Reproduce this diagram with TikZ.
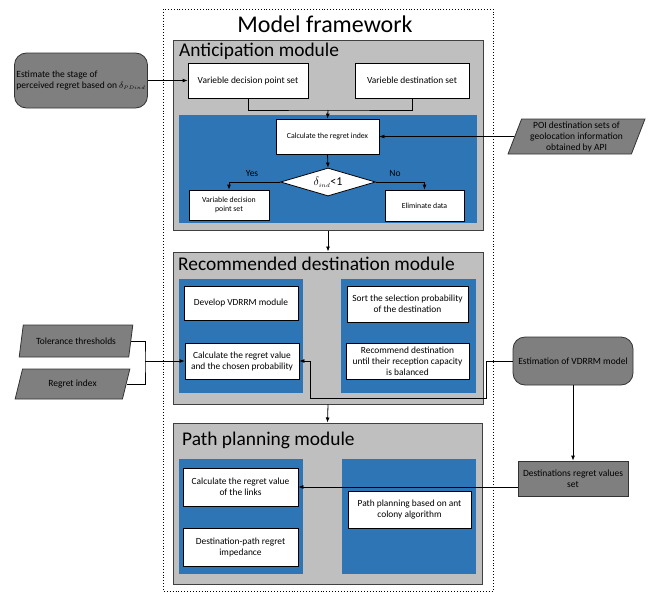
\documentclass[tikz,border=0pt]{standalone}
\usepackage{fontspec}
\setmainfont{Carlito}
\usetikzlibrary{arrows.meta,shapes.geometric}
\definecolor{panelblue}{HTML}{2E75B6}
\definecolor{modgray}{HTML}{BFBFBF}
\definecolor{extgray}{HTML}{7F7F7F}

\begin{document}
\begin{tikzpicture}[x=1pt,y=-1pt,
  sz/.style 2 args={minimum width=#1,minimum height=#2},
  module/.style={draw=black!75,line width=1pt,fill=modgray,inner sep=0pt},
  modtitle/.style={anchor=west,inner sep=0pt,font=\fontsize{19.4}{22}\selectfont},
  panel/.style={fill=panelblue,inner sep=0pt},
  box/.style={draw,fill=white,line width=0.8pt,align=center,inner sep=1pt,font=\fontsize{9.4}{11}\selectfont},
  smallbox/.style={box,font=\fontsize{7.8}{9.4}\selectfont},
  ext/.style={draw=black!80,line width=0.8pt,fill=extgray,rounded corners=12pt,align=center,inner sep=2pt,font=\fontsize{9.5}{11.5}\selectfont},
  data/.style={trapezium,trapezium left angle=70,trapezium right angle=110,trapezium stretches=true,draw=black!80,line width=0.8pt,fill=extgray,align=center,inner sep=1pt,font=\fontsize{9.5}{11}\selectfont},
  link/.style={line width=0.8pt},
  arr/.style={link,-{Latex[length=5pt,width=4pt]}}]
\useasboundingbox (0,0) rectangle (655,592);
\draw[dotted,line width=0.9pt] (163,9) rectangle (493,591);
\node (title) at (325,24) {\fontsize{24}{27}\selectfont Model framework};

% anticipation module
\node[module,sz={310}{190}] (antic) at (328,135) {};
\node[modtitle] (antictitle) at (179,51) {Anticipation module};
\node[box,sz={120}{35}] (vdp) at (248,80.5) {Varieble decision point set};
\node[box,sz={114}{35}] (vdest) at (412,80.5) {Varieble destination set};
\node[panel,sz={298}{108}] (anticpanel) at (328,169) {};
\node[smallbox,sz={103}{35}] (calcidx) at (327.5,136.5) {Calculate the regret index};
\node[diamond,draw,fill=white,line width=0.8pt,sz={95}{28},aspect=3.4,inner sep=0pt,font=\fontsize{12}{13}\selectfont] (dia) at (328,182) {$\delta_{\scriptscriptstyle ind}$<1};
\node[smallbox,sz={80}{30}] (vdp2) at (229,205) {Variable decision\\point set};
\node[smallbox,sz={79}{31}] (elim) at (424.5,205.5) {Eliminate data};
\node[font=\fontsize{9.5}{11}\selectfont] (yes) at (252,173) {Yes};
\node[font=\fontsize{9.5}{11}\selectfont] (no) at (395,173) {No};

% recommended destination module
\node[module,sz={310}{152}] (recom) at (328,328) {};
\node[modtitle] (recomtitle) at (178,264) {Recommended destination module};
\node[panel,sz={124}{114}] (recL) at (241,336) {};
\node[panel,sz={135}{114}] (recR) at (408.5,336) {};
\node[box,sz={114}{34}] (dev) at (241,303) {Develop VDRRM module};
\node[box,sz={114}{36}] (calcrv) at (242,361) {Calculate the regret value\\and the chosen probability};
\node[box,sz={121}{36}] (sort) at (407.5,304) {Sort the selection probability\\of the destination};
\node[box,sz={123}{36}] (recdest) at (407.5,361) {Recommend destination\\until their reception capacity\\is balanced};

% path planning module
\node[module,sz={309}{161}] (pathp) at (327.5,503.5) {};
\node[modtitle] (pathtitle) at (182,440) {Path planning module};
\node[panel,sz={124}{115}] (pathL) at (241,516.5) {};
\node[panel,sz={134}{115}] (pathR) at (409,516.5) {};
\node[box,sz={115}{38}] (links) at (240.5,487) {Calculate the regret value\\of the links};
\node[box,sz={115}{38}] (imped) at (240.5,547) {Destination-path regret\\impedance};
\node[box,sz={123}{37}] (ant) at (409.5,509.5) {Path planning based on ant\\colony algorithm};

% outside the framework
\node[ext,sz={132}{55},align=left] (est) at (81,80.5) {Estimate the stage of\\perceived regret based on $\delta_{\scriptscriptstyle PDind}$};
\node[data,sz={137}{35}] (poi) at (576.5,136.5) {POI destination sets of\\geolocation information\\obtained by API};
\node[data,sz={114}{32}] (tol) at (76,341) {Tolerance thresholds};
\node[data,sz={115}{30}] (regidx) at (72.5,384) {Regret index};
\node[ext,sz={120}{48}] (estv) at (573,361) {Estimation of VDRRM model};
\node[box,fill=extgray,draw=black!80,sz={110}{35},font=\fontsize{9.5}{11}\selectfont] (destreg) at (573,478.5) {Destinations regret values\\set};
\coordinate (join) at (328,110);
\coordinate (brk) at (145,361);

% connectors
\draw[arr] (est.east) -- (vdp.west |- est.east);
\draw[link] (vdp.south) |- (join) -| (vdest.south);
\draw[arr] (join) -- (calcidx.north);
\draw[arr] (poi.west) -- (calcidx.east);
\draw[arr] (calcidx.south) -- (dia.north);
\draw[arr] (dia.west) -| (vdp2.north);
\draw[arr] (dia.east) -| (elim.north);
\draw[arr] (antic.south) -- (recom.north);
\draw[arr] (recom.south) -- (pathp.north);
\draw[link] (tol.east) -| (brk) |- (regidx.east);
\draw[arr] (brk) -- (calcrv.west);
\draw[arr] (estv.west) -- ++(-26,0) |- (310,398) |- (calcrv.east);
\draw[arr] (estv.south) -- (destreg.north);
\draw[arr] (links.east -| destreg.west) -- (links.east);
\end{tikzpicture}
\end{document}
